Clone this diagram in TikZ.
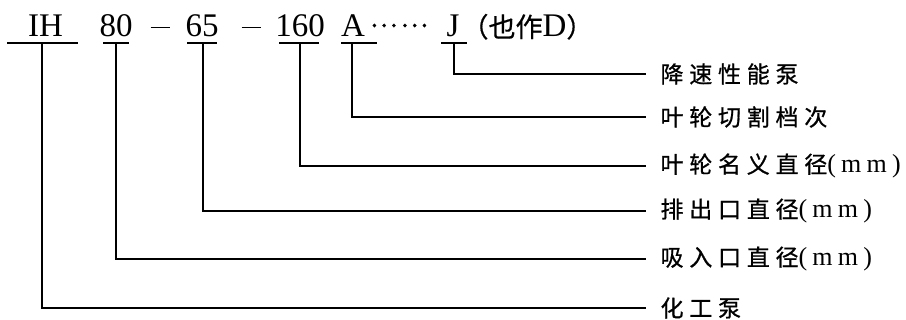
\documentclass[tikz,border=0pt]{standalone}
\usepackage{fontspec}
\setmainfont{Liberation Serif}
\newfontfamily\cjk[FakeBold=0.6]{Noto Sans CJK SC}
\newfontfamily\labcjk[LetterSpace=25,FakeBold=0.8]{Noto Sans CJK SC}
\newfontfamily\labrm[LetterSpace=20]{Liberation Serif}
\newcommand{\dash}{\rule[8.5pt]{19pt}{1.7pt}}
\usetikzlibrary{positioning}

\begin{document}
\begin{tikzpicture}[x=1pt,y=-1pt,line width=1.1pt,
  code/.style={anchor=base,inner sep=0pt,font=\fontsize{33}{36}\selectfont},
  lab/.style={anchor=west,inner xsep=14pt,inner ysep=0pt,font=\fontsize{23}{26}\labcjk}]
\useasboundingbox (0,0) rectangle (906,320);

% model code
\node[code] (ih) at (45.5,37) {IH};
\node[code] (n80) at (116,37) {80};
\node[code] (m1) at (160,37) {\dash};
\node[code] (n65) at (202,37) {65};
\node[code] (m2) at (251,37) {\dash};
\node[code] (n160) at (300,37) {160};
\node[code] (a) at (353,37) {A};
\node[code,font=\fontsize{26}{28}\cjk] (dots) at (399,27) {…\kern3pt…};
\node[code] (j) at (453,37) {J};
\node[code,anchor=base west] (alt) at (461,37) {{\fontsize{27}{30}\cjk（也作}D{\fontsize{27}{30}\cjk）}};

% stems
\coordinate (sIH) at (42,43);
\coordinate (s80) at (116,43);
\coordinate (s65) at (203,43);
\coordinate (s160) at (300,43);
\coordinate (sA) at (352,43);
\coordinate (sJ) at (454,43);

% meanings
\node[lab] (slow) at (646,74) {降速性能泵};
\node[lab] (cut) at (646,117) {叶轮切割档次};
\node[lab] (imp) at (646,166) {叶轮名义直径{\fontsize{26}{28}\labrm(mm)}};
\node[lab] (outl) at (646,211) {排出口直径{\fontsize{26}{28}\labrm(mm)}};
\node[lab] (inl) at (646,259) {吸入口直径{\fontsize{26}{28}\labrm(mm)}};
\node[lab] (chem) at (646,308) {化工泵};

% underlines
\draw ([xshift=-35pt]sIH) -- ([xshift=36pt]sIH);
\draw ([xshift=-13pt]s80) -- ([xshift=13pt]s80);
\draw ([xshift=-16pt]s65) -- ([xshift=14pt]s65);
\draw ([xshift=-21pt]s160) -- ([xshift=19pt]s160);
\draw ([xshift=-11pt]sA) -- ([xshift=25pt]sA);
\draw ([xshift=-13pt]sJ) -- ([xshift=13pt]sJ);

% leaders
\draw (sJ) |- (slow.west);
\draw (sA) |- (cut.west);
\draw (s160) |- (imp.west);
\draw (s65) |- (outl.west);
\draw (s80) |- (inl.west);
\draw (sIH) |- (chem.west);
\end{tikzpicture}
\end{document}
